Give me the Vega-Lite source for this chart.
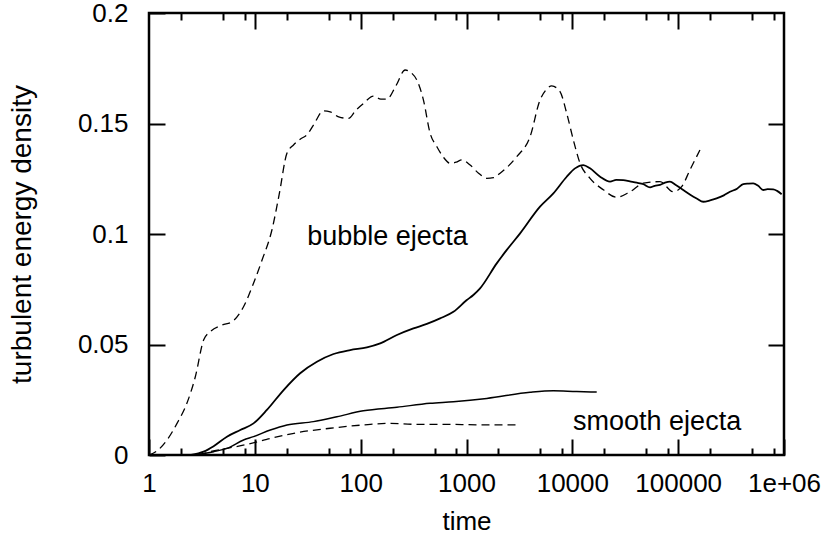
{
  "$schema": "https://vega.github.io/schema/vega-lite/v6.json",
  "autosize": "none",
  "width": 635,
  "height": 442,
  "padding": {"left": 149, "top": 13, "right": 41, "bottom": 80},
  "background": "white",
  "config": {
    "view": {"stroke": "black", "strokeWidth": 2.5},
    "font": "Liberation Sans",
    "axis": {
      "labelFont": "Liberation Sans",
      "titleFont": "Liberation Sans",
      "labelFontSize": 26,
      "titleFontSize": 26,
      "labelColor": "black",
      "titleColor": "black",
      "titleFontWeight": "normal",
      "tickColor": "black",
      "tickWidth": 2,
      "domain": false,
      "grid": false,
      "zindex": 1
    }
  },
  "datasets": {
    "curves": [
      {"series": "bubble_dashed", "t": 1, "e": 0},
      {"series": "bubble_dashed", "t": 1.2, "e": 0.002},
      {"series": "bubble_dashed", "t": 1.48, "e": 0.0068},
      {"series": "bubble_dashed", "t": 1.84, "e": 0.0143},
      {"series": "bubble_dashed", "t": 2.28, "e": 0.0234},
      {"series": "bubble_dashed", "t": 2.74, "e": 0.0354},
      {"series": "bubble_dashed", "t": 3.28, "e": 0.052},
      {"series": "bubble_dashed", "t": 3.79, "e": 0.0558},
      {"series": "bubble_dashed", "t": 4.89, "e": 0.0588},
      {"series": "bubble_dashed", "t": 6.08, "e": 0.0603},
      {"series": "bubble_dashed", "t": 7.82, "e": 0.0671},
      {"series": "bubble_dashed", "t": 9.72, "e": 0.0777},
      {"series": "bubble_dashed", "t": 11.7, "e": 0.0882},
      {"series": "bubble_dashed", "t": 14.5, "e": 0.1018},
      {"series": "bubble_dashed", "t": 17, "e": 0.118},
      {"series": "bubble_dashed", "t": 20.1, "e": 0.1365},
      {"series": "bubble_dashed", "t": 23.2, "e": 0.1403},
      {"series": "bubble_dashed", "t": 27, "e": 0.143},
      {"series": "bubble_dashed", "t": 31, "e": 0.1448},
      {"series": "bubble_dashed", "t": 35.8, "e": 0.1493},
      {"series": "bubble_dashed", "t": 44.5, "e": 0.1557},
      {"series": "bubble_dashed", "t": 51.5, "e": 0.1553},
      {"series": "bubble_dashed", "t": 62, "e": 0.153},
      {"series": "bubble_dashed", "t": 76.7, "e": 0.1523},
      {"series": "bubble_dashed", "t": 90, "e": 0.156},
      {"series": "bubble_dashed", "t": 106, "e": 0.159},
      {"series": "bubble_dashed", "t": 132, "e": 0.1624},
      {"series": "bubble_dashed", "t": 155, "e": 0.161},
      {"series": "bubble_dashed", "t": 177, "e": 0.161},
      {"series": "bubble_dashed", "t": 215, "e": 0.167},
      {"series": "bubble_dashed", "t": 263, "e": 0.1742},
      {"series": "bubble_dashed", "t": 300, "e": 0.173},
      {"series": "bubble_dashed", "t": 339, "e": 0.1697},
      {"series": "bubble_dashed", "t": 392, "e": 0.1606},
      {"series": "bubble_dashed", "t": 453, "e": 0.1456},
      {"series": "bubble_dashed", "t": 525, "e": 0.1395},
      {"series": "bubble_dashed", "t": 600, "e": 0.135},
      {"series": "bubble_dashed", "t": 700, "e": 0.132},
      {"series": "bubble_dashed", "t": 800, "e": 0.1325},
      {"series": "bubble_dashed", "t": 903, "e": 0.1335},
      {"series": "bubble_dashed", "t": 1082, "e": 0.1312},
      {"series": "bubble_dashed", "t": 1300, "e": 0.1275},
      {"series": "bubble_dashed", "t": 1555, "e": 0.1252},
      {"series": "bubble_dashed", "t": 1800, "e": 0.1255},
      {"series": "bubble_dashed", "t": 2077, "e": 0.1275},
      {"series": "bubble_dashed", "t": 2985, "e": 0.135},
      {"series": "bubble_dashed", "t": 3985, "e": 0.144},
      {"series": "bubble_dashed", "t": 4950, "e": 0.1606},
      {"series": "bubble_dashed", "t": 5600, "e": 0.165},
      {"series": "bubble_dashed", "t": 6390, "e": 0.167},
      {"series": "bubble_dashed", "t": 7650, "e": 0.1644},
      {"series": "bubble_dashed", "t": 8850, "e": 0.1546},
      {"series": "bubble_dashed", "t": 10230, "e": 0.1425},
      {"series": "bubble_dashed", "t": 11830, "e": 0.132},
      {"series": "bubble_dashed", "t": 14700, "e": 0.1252},
      {"series": "bubble_dashed", "t": 19630, "e": 0.12},
      {"series": "bubble_dashed", "t": 26240, "e": 0.1166},
      {"series": "bubble_dashed", "t": 35100, "e": 0.1191},
      {"series": "bubble_dashed", "t": 46900, "e": 0.123},
      {"series": "bubble_dashed", "t": 67300, "e": 0.1237},
      {"series": "bubble_dashed", "t": 89900, "e": 0.1191},
      {"series": "bubble_dashed", "t": 107900, "e": 0.1214},
      {"series": "bubble_dashed", "t": 129200, "e": 0.129},
      {"series": "bubble_dashed", "t": 160600, "e": 0.138},

      {"series": "bubble_solid", "t": 2.5, "e": 0},
      {"series": "bubble_solid", "t": 3.28, "e": 0.0015},
      {"series": "bubble_solid", "t": 4.08, "e": 0.004},
      {"series": "bubble_solid", "t": 5.45, "e": 0.0083},
      {"series": "bubble_solid", "t": 7.28, "e": 0.0113},
      {"series": "bubble_solid", "t": 9.72, "e": 0.0143},
      {"series": "bubble_solid", "t": 13, "e": 0.0204},
      {"series": "bubble_solid", "t": 18.7, "e": 0.0294},
      {"series": "bubble_solid", "t": 26.8, "e": 0.037},
      {"series": "bubble_solid", "t": 38.6, "e": 0.0422},
      {"series": "bubble_solid", "t": 55.4, "e": 0.0457},
      {"series": "bubble_solid", "t": 79.6, "e": 0.0475},
      {"series": "bubble_solid", "t": 114.5, "e": 0.0487},
      {"series": "bubble_solid", "t": 153, "e": 0.0505},
      {"series": "bubble_solid", "t": 220, "e": 0.0543},
      {"series": "bubble_solid", "t": 315, "e": 0.0573},
      {"series": "bubble_solid", "t": 422, "e": 0.0593},
      {"series": "bubble_solid", "t": 563, "e": 0.0618},
      {"series": "bubble_solid", "t": 752, "e": 0.0648},
      {"series": "bubble_solid", "t": 1000, "e": 0.07},
      {"series": "bubble_solid", "t": 1161, "e": 0.0724},
      {"series": "bubble_solid", "t": 1343, "e": 0.0754},
      {"series": "bubble_solid", "t": 1930, "e": 0.0867},
      {"series": "bubble_solid", "t": 2403, "e": 0.0928},
      {"series": "bubble_solid", "t": 3210, "e": 0.1003},
      {"series": "bubble_solid", "t": 4950, "e": 0.1124},
      {"series": "bubble_solid", "t": 6620, "e": 0.1184},
      {"series": "bubble_solid", "t": 8850, "e": 0.1259},
      {"series": "bubble_solid", "t": 10600, "e": 0.1297},
      {"series": "bubble_solid", "t": 12700, "e": 0.1312},
      {"series": "bubble_solid", "t": 14700, "e": 0.1297},
      {"series": "bubble_solid", "t": 18300, "e": 0.1259},
      {"series": "bubble_solid", "t": 22700, "e": 0.1237},
      {"series": "bubble_solid", "t": 26000, "e": 0.1245},
      {"series": "bubble_solid", "t": 30300, "e": 0.1244},
      {"series": "bubble_solid", "t": 35000, "e": 0.1238},
      {"series": "bubble_solid", "t": 40600, "e": 0.1232},
      {"series": "bubble_solid", "t": 47000, "e": 0.1225},
      {"series": "bubble_solid", "t": 54200, "e": 0.1211},
      {"series": "bubble_solid", "t": 60000, "e": 0.1218},
      {"series": "bubble_solid", "t": 67300, "e": 0.1222},
      {"series": "bubble_solid", "t": 75000, "e": 0.1232},
      {"series": "bubble_solid", "t": 83600, "e": 0.1237},
      {"series": "bubble_solid", "t": 95000, "e": 0.1222},
      {"series": "bubble_solid", "t": 111700, "e": 0.1199},
      {"series": "bubble_solid", "t": 130000, "e": 0.1178},
      {"series": "bubble_solid", "t": 149600, "e": 0.1161},
      {"series": "bubble_solid", "t": 172600, "e": 0.1146},
      {"series": "bubble_solid", "t": 200000, "e": 0.1152},
      {"series": "bubble_solid", "t": 230700, "e": 0.1161},
      {"series": "bubble_solid", "t": 270000, "e": 0.1175},
      {"series": "bubble_solid", "t": 308300, "e": 0.1191},
      {"series": "bubble_solid", "t": 360000, "e": 0.1205},
      {"series": "bubble_solid", "t": 412000, "e": 0.1226},
      {"series": "bubble_solid", "t": 460000, "e": 0.1228},
      {"series": "bubble_solid", "t": 512000, "e": 0.1229},
      {"series": "bubble_solid", "t": 570000, "e": 0.1218},
      {"series": "bubble_solid", "t": 636000, "e": 0.1199},
      {"series": "bubble_solid", "t": 700000, "e": 0.1203},
      {"series": "bubble_solid", "t": 791000, "e": 0.1202},
      {"series": "bubble_solid", "t": 860000, "e": 0.1195},
      {"series": "bubble_solid", "t": 950000, "e": 0.118},

      {"series": "smooth_solid", "t": 2.64, "e": 0},
      {"series": "smooth_solid", "t": 4.08, "e": 0.0015},
      {"series": "smooth_solid", "t": 5.45, "e": 0.003},
      {"series": "smooth_solid", "t": 7.82, "e": 0.0068},
      {"series": "smooth_solid", "t": 9.72, "e": 0.0083},
      {"series": "smooth_solid", "t": 14, "e": 0.0113},
      {"series": "smooth_solid", "t": 20.1, "e": 0.0136},
      {"series": "smooth_solid", "t": 35.8, "e": 0.0151},
      {"series": "smooth_solid", "t": 59.6, "e": 0.0173},
      {"series": "smooth_solid", "t": 106, "e": 0.02},
      {"series": "smooth_solid", "t": 220, "e": 0.0216},
      {"series": "smooth_solid", "t": 453, "e": 0.0234},
      {"series": "smooth_solid", "t": 752, "e": 0.0241},
      {"series": "smooth_solid", "t": 1555, "e": 0.0256},
      {"series": "smooth_solid", "t": 3985, "e": 0.0284},
      {"series": "smooth_solid", "t": 6620, "e": 0.0291},
      {"series": "smooth_solid", "t": 11000, "e": 0.0287},
      {"series": "smooth_solid", "t": 17000, "e": 0.0285},

      {"series": "smooth_dashed", "t": 2.94, "e": 0},
      {"series": "smooth_dashed", "t": 3.8, "e": 0.0015},
      {"series": "smooth_dashed", "t": 5.45, "e": 0.003},
      {"series": "smooth_dashed", "t": 8.42, "e": 0.0048},
      {"series": "smooth_dashed", "t": 13, "e": 0.0071},
      {"series": "smooth_dashed", "t": 25, "e": 0.0101},
      {"series": "smooth_dashed", "t": 51.5, "e": 0.0121},
      {"series": "smooth_dashed", "t": 106, "e": 0.0136},
      {"series": "smooth_dashed", "t": 190, "e": 0.0143},
      {"series": "smooth_dashed", "t": 315, "e": 0.0139},
      {"series": "smooth_dashed", "t": 563, "e": 0.0139},
      {"series": "smooth_dashed", "t": 1555, "e": 0.0136},
      {"series": "smooth_dashed", "t": 2985, "e": 0.0136}
    ],
    "labels": [
      {"label": "bubble ejecta", "t": 31.2, "e": 0.095},
      {"label": "smooth ejecta", "t": 10160, "e": 0.0113}
    ]
  },
  "resolve": {"axis": {"x": "independent", "y": "independent"}},
  "layer": [
    {
      "data": {"name": "curves"},
      "transform": [{"filter": "datum.series == 'bubble_dashed'"}],
      "mark": {"type": "line", "color": "black", "strokeWidth": 1.3, "strokeDash": [8, 5], "interpolate": "monotone"},
      "encoding": {
        "x": {"field": "t", "type": "quantitative",
              "scale": {"type": "log", "domain": [1, 1000000], "nice": false},
              "axis": {"orient": "bottom", "title": "time", "values": [1, 10, 100, 1000, 10000, 100000, 1000000],
                       "labelExpr": "datum.value >= 1000000 ? '1e+06' : format(datum.value, 'd')",
                       "offset": -16, "tickSize": 16, "labelPadding": 15, "titlePadding": 12, "labelFlush": false, "labelOverlap": false}},
        "y": {"field": "e", "type": "quantitative",
              "scale": {"domain": [0, 0.2], "nice": false},
              "axis": {"orient": "left", "title": "turbulent energy density", "titleFontSize": 28, "values": [0, 0.05, 0.1, 0.15, 0.2],
                       "format": "~g", "offset": -16, "tickSize": 16, "labelPadding": 21, "titlePadding": 41, "labelFlush": false, "labelOverlap": false}}
      }
    },
    {
      "data": {"name": "curves"},
      "transform": [{"filter": "datum.series == 'bubble_solid'"}],
      "mark": {"type": "line", "color": "black", "strokeWidth": 1.8, "interpolate": "monotone"},
      "encoding": {
        "x": {"field": "t", "type": "quantitative",
              "scale": {"type": "log", "domain": [1, 1000000], "nice": false},
              "axis": {"orient": "bottom", "title": null, "labels": false, "offset": -7, "tickSize": 7,
                       "values": [2, 5, 8, 20, 50, 80, 200, 500, 800, 2000, 5000, 8000, 20000, 50000, 80000, 200000, 500000, 800000]}},
        "y": {"field": "e", "type": "quantitative",
              "scale": {"domain": [0, 0.2], "nice": false},
              "axis": {"orient": "right", "title": null, "labels": false, "offset": -16, "tickSize": 16, "values": [0.05, 0.1, 0.15]}}
      }
    },
    {
      "data": {"name": "curves"},
      "transform": [{"filter": "datum.series == 'smooth_solid'"}],
      "mark": {"type": "line", "color": "black", "strokeWidth": 1.5, "interpolate": "monotone"},
      "encoding": {
        "x": {"field": "t", "type": "quantitative",
              "scale": {"type": "log", "domain": [1, 1000000], "nice": false},
              "axis": {"orient": "top", "title": null, "labels": false, "offset": -16, "tickSize": 16,
                       "values": [10, 100, 1000, 10000, 100000]}},
        "y": {"field": "e", "type": "quantitative", "scale": {"domain": [0, 0.2], "nice": false}, "axis": null}
      }
    },
    {
      "data": {"name": "curves"},
      "transform": [{"filter": "datum.series == 'smooth_dashed'"}],
      "mark": {"type": "line", "color": "black", "strokeWidth": 1.3, "strokeDash": [8, 5], "interpolate": "monotone"},
      "encoding": {
        "x": {"field": "t", "type": "quantitative",
              "scale": {"type": "log", "domain": [1, 1000000], "nice": false},
              "axis": {"orient": "top", "title": null, "labels": false, "offset": -7, "tickSize": 7,
                       "values": [2, 5, 8, 20, 50, 80, 200, 500, 800, 2000, 5000, 8000, 20000, 50000, 80000, 200000, 500000, 800000]}},
        "y": {"field": "e", "type": "quantitative", "scale": {"domain": [0, 0.2], "nice": false}, "axis": null}
      }
    },
    {
      "data": {"name": "labels"},
      "mark": {"type": "text", "align": "left", "baseline": "alphabetic", "fontSize": 27, "font": "Liberation Sans", "color": "black"},
      "encoding": {
        "x": {"field": "t", "type": "quantitative", "scale": {"type": "log", "domain": [1, 1000000], "nice": false}, "axis": null},
        "y": {"field": "e", "type": "quantitative", "scale": {"domain": [0, 0.2], "nice": false}, "axis": null},
        "text": {"field": "label"}
      }
    }
  ]
}
